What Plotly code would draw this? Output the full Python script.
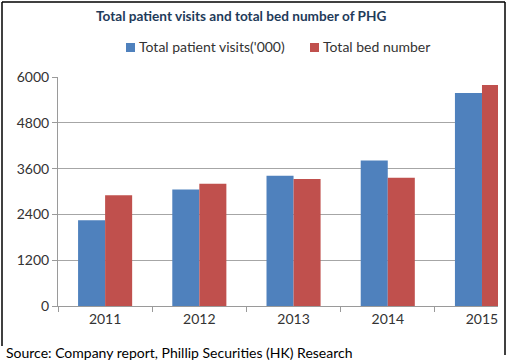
import plotly.graph_objects as go

years = ["2011", "2012", "2013", "2014", "2015"]
patient_visits = [2250, 3050, 3410, 3810, 5580]
bed_numbers = [2900, 3200, 3330, 3360, 5790]
y_ticks = [0, 1200, 2400, 3600, 4800, 6000]
series_names = ["Total patient visits('000)", "Total bed number"]
series_colors = ["#4F81BD", "#C0504D"]

FONT = "Lato"
W, H = 509, 361
L, R, T, B = 58, 11, 77, 55
pw, ph = W - L - R, H - T - B


def px_to_paper(x, y):
    return (x - L) / pw, (H - B - y) / ph


fig = go.Figure()
for vals, name, col in zip([patient_visits, bed_numbers], series_names, series_colors):
    fig.add_trace(go.Bar(x=years, y=vals, name=name,
                         marker=dict(color=col, line=dict(width=0))))

tx, ty = px_to_paper(241, 16)
sx, sy = px_to_paper(4, 352)

annotations = [
    dict(text="<b>Total patient visits and total bed number of PHG</b>", x=tx, y=ty,
         xref="paper", yref="paper", showarrow=False, yanchor="middle",
         font=dict(size=13.6, color="#1F3B5A")),
    dict(text="Source: Company report, Phillip Securities (HK) Research", x=sx, y=sy,
         xref="paper", yref="paper", xanchor="left", yanchor="middle", showarrow=False,
         font=dict(size=14, color="#000000")),
]
shapes = []
# manual legend
legend_sq_x = [126, 310]
for sqx, name, col in zip(legend_sq_x, series_names, series_colors):
    a, b = px_to_paper(sqx, 43)
    c, d = px_to_paper(sqx + 9, 52)
    shapes.append(dict(type="rect", xref="paper", yref="paper", x0=a, y0=b, x1=c, y1=d,
                       fillcolor=col, line=dict(width=0)))
    lx, ly = px_to_paper(sqx + 11, 47)
    annotations.append(dict(text=name, x=lx, y=ly, xref="paper", yref="paper",
                            xanchor="left", yanchor="middle", showarrow=False,
                            font=dict(size=14, color="#333333")))

# frame border (left, top, right)
x0, y0 = px_to_paper(2, 2)
x1, y1 = px_to_paper(505, 346)
x2, y2 = px_to_paper(505, 355)
for (a, b, c, d) in [(x0, y0, x0, y1), (x0, y0, x1, y0), (x1, y0, x2, y2)]:
    shapes.append(dict(type="line", xref="paper", yref="paper", x0=a, y0=b, x1=c, y1=d,
                       line=dict(color="black", width=1.5)))

fig.update_layout(
    width=W, height=H,
    margin=dict(l=L, r=R, t=T, b=B, autoexpand=False),
    paper_bgcolor="white", plot_bgcolor="white",
    barmode="group", bargap=0.426, bargroupgap=0,
    font=dict(family=FONT, size=13, color="#333333"),
    showlegend=False,
    xaxis=dict(type="category", range=[-0.5, 4.17], showline=True, linecolor="#9A9A9A",
               linewidth=1, ticks="outside", tickson="boundaries", ticklen=5,
               tickcolor="#9A9A9A", showgrid=False, tickfont=dict(size=14, color="#333333")),
    yaxis=dict(range=[0, 6000], tickvals=y_ticks, showline=True, linecolor="#9A9A9A",
               linewidth=1, ticks="outside", ticklen=5, tickcolor="#9A9A9A",
               showgrid=True, gridcolor="#A6A6A6", gridwidth=1, zeroline=False,
               tickfont=dict(size=14, color="#333333")),
    annotations=annotations,
    shapes=shapes,
)

fig.write_html("out.html", config={"displayModeBar": False},
               post_script="document.body.style.margin='0';document.body.style.overflow='hidden';")
